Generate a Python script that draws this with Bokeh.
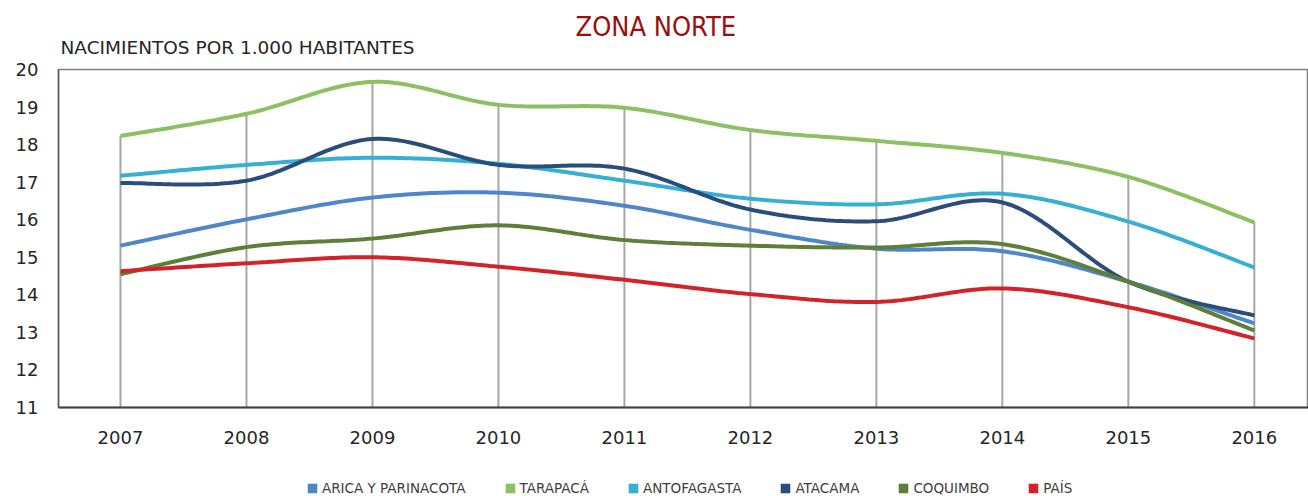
import numpy as np
from bokeh.plotting import figure
from bokeh.layouts import column
from bokeh.models import Legend, LegendItem, Title, FixedTicker
from bokeh.embed import file_html
from bokeh.resources import INLINE

years = [2007, 2008, 2009, 2010, 2011, 2012, 2013, 2014, 2015, 2016]
arica = [15.31, 16.01, 16.59, 16.72, 16.37, 15.73, 15.23, 15.16, 14.35, 13.24]
tarapaca = [18.23, 18.82, 19.67, 19.06, 18.98, 18.39, 18.10, 17.78, 17.14, 15.93]
antofagasta = [17.17, 17.46, 17.65, 17.49, 17.04, 16.56, 16.41, 16.69, 15.95, 14.73]
atacama = [16.98, 17.04, 18.15, 17.46, 17.36, 16.27, 15.96, 16.46, 14.35, 13.45]
coquimbo = [14.55, 15.27, 15.50, 15.85, 15.46, 15.31, 15.26, 15.35, 14.35, 13.05]
pais = [14.63, 14.84, 15.00, 14.75, 14.40, 14.02, 13.81, 14.17, 13.67, 12.84]

names = ["ARICA Y PARINACOTA", "TARAPACÁ", "ANTOFAGASTA", "ATACAMA", "COQUIMBO", "PAÍS"]
series = [arica, tarapaca, antofagasta, atacama, coquimbo, pais]
colors = ["#4F86C9", "#8DC063", "#37AFD3", "#2B4D7C", "#5E7F39", "#D2232A"]

FONT = "DejaVu Sans"


def smooth(xs, ys, n=30):
    """Catmull-Rom (Excel-like smoothed line) through the data points."""
    P = np.column_stack([xs, ys]).astype(float)
    P = np.vstack([P[0], P, P[-1]])
    out = []
    for i in range(1, len(P) - 2):
        p0, p1, p2, p3 = P[i - 1], P[i], P[i + 1], P[i + 2]
        c1 = p1 + (p2 - p0) / 6.0
        c2 = p2 - (p3 - p1) / 6.0
        t = np.linspace(0, 1, n, endpoint=(i == len(P) - 3))[:, None]
        b = ((1 - t) ** 3) * p1 + 3 * ((1 - t) ** 2) * t * c1 + 3 * (1 - t) * t ** 2 * c2 + t ** 3 * p2
        out.append(b)
    out = np.vstack(out)
    return out[:, 0], out[:, 1]


p = figure(frame_width=1250, frame_height=338, x_range=(2006.508, 2016.43), y_range=(11, 20),
           output_backend="svg", toolbar_location=None, title=None,
           min_border_left=58, min_border_right=0, min_border_top=69, min_border_bottom=55)

p.xgrid.grid_line_color = None
p.ygrid.grid_line_color = None
p.outline_line_color = "#7F7F7F"
p.outline_line_width = 1.5

# drop lines from axis to highest series
tops = np.max(np.array(series), axis=0)
p.segment(x0=years, y0=[11] * len(years), x1=years, y1=tops, line_color="#A6A6A6", line_width=2)

for s, c in zip(series, colors):
    sx, sy = smooth(years, s)
    p.line(sx, sy, line_color=c, line_width=4)

p.xaxis.ticker = FixedTicker(ticks=years)
p.yaxis.ticker = FixedTicker(ticks=list(range(11, 21)))
for ax in (p.xaxis[0], p.yaxis[0]):
    ax.major_tick_line_color = None
    ax.minor_tick_line_color = None
    ax.major_label_text_font = FONT
    ax.major_label_text_font_size = "18px"
    ax.major_label_text_color = "#262626"
p.xaxis.axis_line_color = "#404040"
p.xaxis.axis_line_width = 2
p.yaxis.axis_line_color = "#595959"
p.yaxis.axis_line_width = 1.5
p.xaxis.major_label_standoff = 17
p.yaxis.major_label_standoff = 14

sub = Title(text="NACIMIENTOS POR 1.000 HABITANTES", align="left", offset=2, standoff=24,
            text_font=FONT, text_font_size="18.5px", text_font_style="normal", text_color="#262626")
p.add_layout(sub, "above")
main = Title(text="ZONA NORTE", align="left", offset=517, standoff=-38,
             text_font="DejaVu Sans Condensed", text_font_size="27px", text_font_style="normal",
             text_color="#9B0E0E")
p.add_layout(main, "above")

# legend strip below the chart (frame aligned with the main chart)
lg = figure(frame_width=1250, frame_height=34, x_range=(0, 1), y_range=(0, 1),
            output_backend="svg", toolbar_location=None, title=None,
            x_axis_location=None, y_axis_location=None,
            min_border_left=58, min_border_right=0, min_border_top=0, min_border_bottom=0)
lg.outline_line_color = None
lg.xgrid.grid_line_color = None
lg.ygrid.grid_line_color = None
items = []
for name, c in zip(names, colors):
    # off-screen swatch renderer, used only for the legend key
    dummy = lg.quad(left=[-3], right=[-2], top=[-2], bottom=[-3], fill_color=c, line_color=None)
    items.append(LegendItem(label=name, renderers=[dummy]))
legend = Legend(items=items, orientation="horizontal", location=(248, 0),
                spacing=38, label_standoff=4, glyph_width=12, glyph_height=12, label_height=12,
                border_line_color=None, background_fill_alpha=0,
                label_text_font=FONT, label_text_font_size="13.5px", label_text_color="#404040",
                padding=0, margin=0)
lg.add_layout(legend, "center")

layout = column(p, lg, spacing=0)
open("out.html", "w").write(file_html(layout, INLINE))
